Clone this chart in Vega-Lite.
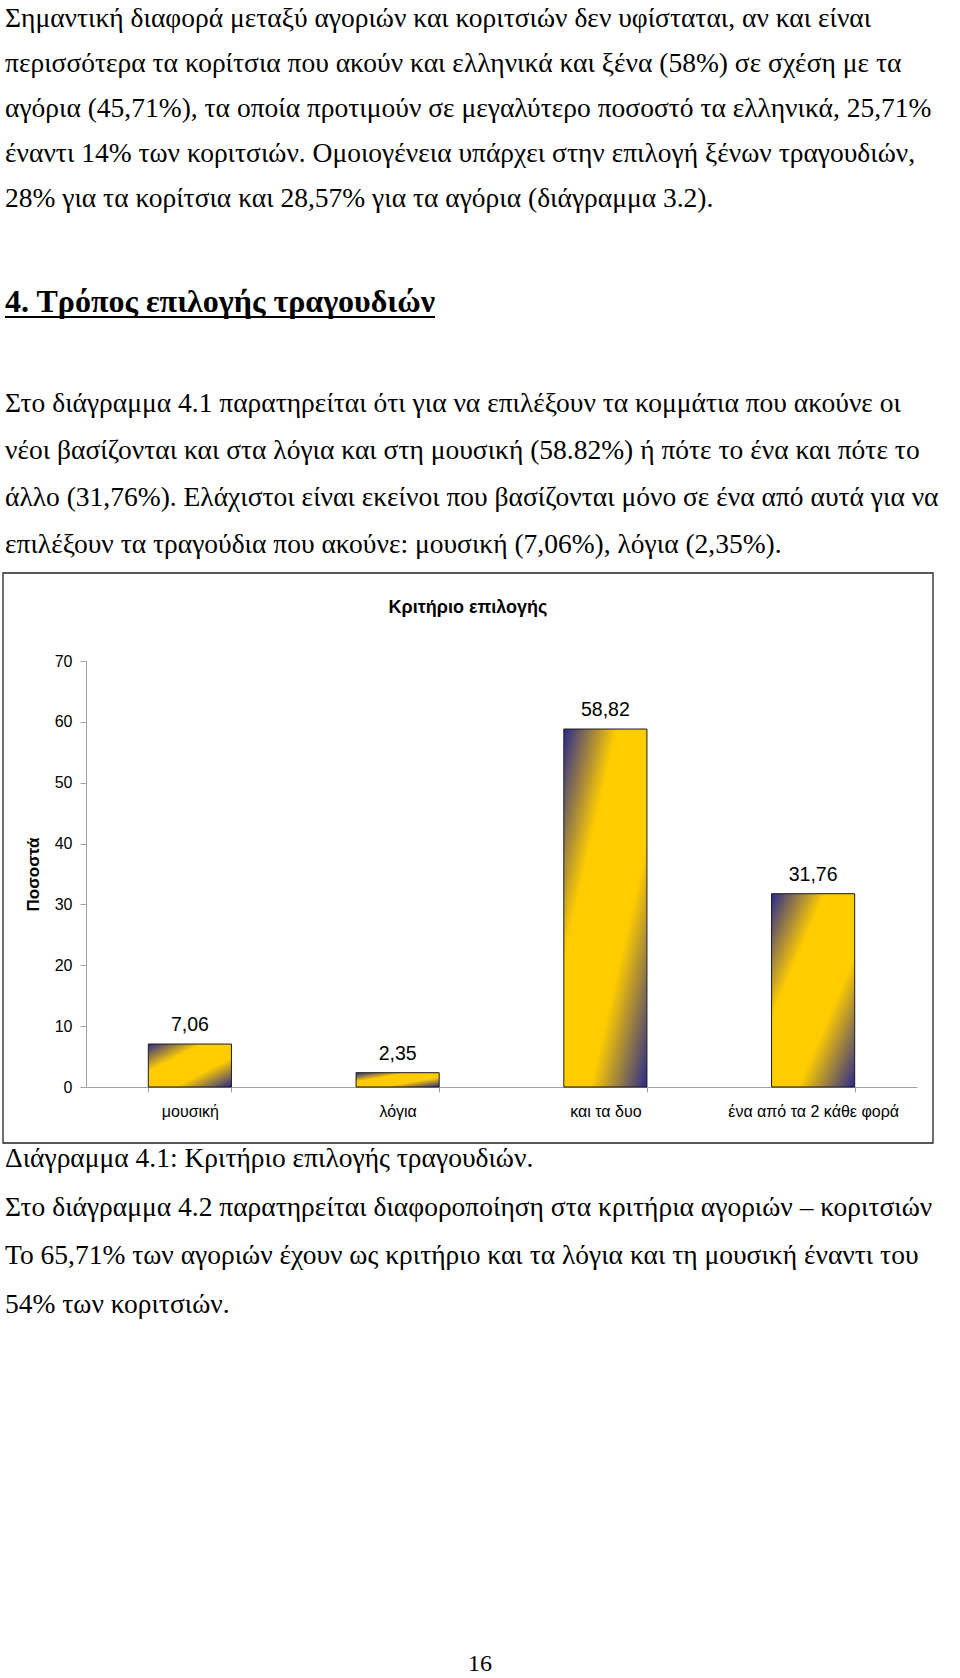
{
  "$schema": "https://vega.github.io/schema/vega-lite/v6.json",
  "width": 960,
  "height": 1678,
  "autosize": {"type": "none"},
  "padding": 0,
  "background": "white",
  "config": {
    "view": {"stroke": null},
    "locale": {"number": {"decimal": ",", "thousands": ".", "grouping": [3], "currency": ["", " €"]}}
  },
  "datasets": {
    "bars": [
      {"cat": "μουσική", "value": 7.06},
      {"cat": "λόγια", "value": 2.35},
      {"cat": "και τα δυο", "value": 58.82},
      {"cat": "ένα από τα 2 κάθε φορά", "value": 31.76}
    ],
    "p1": [
      {"line": 0, "text": "\u00a0\u00a0\u00a0Σημαντική διαφορά μεταξύ αγοριών και κοριτσιών δεν υφίσταται, αν και είναι"},
      {"line": 1, "text": "περισσότερα τα κορίτσια που ακούν και ελληνικά και ξένα (58%) σε σχέση με τα"},
      {"line": 2, "text": "αγόρια (45,71%), τα οποία προτιμούν σε μεγαλύτερο ποσοστό τα ελληνικά, 25,71%"},
      {"line": 3, "text": "έναντι 14% των κοριτσιών. Ομοιογένεια υπάρχει στην επιλογή ξένων τραγουδιών,"},
      {"line": 4, "text": "28% για τα κορίτσια και 28,57% για τα αγόρια (διάγραμμα 3.2)."}
    ],
    "heading": [{"text": "4. Τρόπος επιλογής τραγουδιών"}],
    "p2": [
      {"line": 0, "text": "\u00a0\u00a0\u00a0Στο διάγραμμα 4.1 παρατηρείται ότι για να επιλέξουν τα κομμάτια που ακούνε οι"},
      {"line": 1, "text": "νέοι βασίζονται και στα λόγια και στη μουσική (58.82%) ή πότε το ένα και πότε το"},
      {"line": 2, "text": "άλλο (31,76%). Ελάχιστοι είναι εκείνοι που βασίζονται μόνο σε ένα από αυτά για να"},
      {"line": 3, "text": "επιλέξουν τα τραγούδια που ακούνε: μουσική (7,06%), λόγια (2,35%)."}
    ],
    "p3": [
      {"line": 0, "text": "Διάγραμμα 4.1: Κριτήριο επιλογής τραγουδιών."},
      {"line": 1, "text": "\u00a0\u00a0Στο διάγραμμα 4.2 παρατηρείται διαφοροποίηση στα κριτήρια αγοριών – κοριτσιών"},
      {"line": 2, "text": "Το 65,71% των αγοριών έχουν ως κριτήριο και τα λόγια και τη μουσική έναντι του"},
      {"line": 3, "text": "54% των κοριτσιών."}
    ],
    "chartTitle": [{"text": "Κριτήριο επιλογής"}],
    "page": [{"text": "16"}]
  },
  "layer": [
    {
      "data": {"name": "bars"},
      "encoding": {
        "x": {
          "field": "cat", "type": "nominal", "sort": null,
          "scale": {"range": [86, 917], "paddingInner": 0.6, "paddingOuter": 0.3},
          "axis": {
            "orient": "bottom", "offset": -591, "title": null, "labelAngle": 0,
            "tickBand": "extent", "tickSize": 5, "tickColor": "#a0a0a0", "domainColor": "#a0a0a0",
            "labelFont": "Liberation Sans", "labelFontSize": 16, "labelColor": "#000", "labelPadding": 11
          }
        },
        "y": {
          "field": "value", "type": "quantitative",
          "scale": {"domain": [0, 70], "range": [1087, 661], "nice": false, "zero": true},
          "axis": {
            "orient": "left", "offset": -86, "values": [0, 10, 20, 30, 40, 50, 60, 70], "grid": false,
            "tickSize": 6, "tickColor": "#a0a0a0", "domainColor": "#a0a0a0",
            "labelFont": "Liberation Sans", "labelFontSize": 16, "labelColor": "#000", "labelPadding": 8,
            "title": "Ποσοστά", "titleFont": "Liberation Sans", "titleFontSize": 17, "titleFontWeight": "bold",
            "titleColor": "#000", "titlePadding": 12
          }
        }
      },
      "layer": [
        {
          "mark": {
            "type": "bar", "stroke": "#1a1a1a", "strokeWidth": 1,
            "color": {
              "gradient": "linear", "x1": 0, "y1": 0, "x2": 1, "y2": 1,
              "stops": [
                {"offset": 0, "color": "#2a2a8c"},
                {"offset": 0.32, "color": "#ffcc00"},
                {"offset": 0.66, "color": "#ffcc00"},
                {"offset": 1, "color": "#2a2a8c"}
              ]
            }
          }
        },
        {
          "mark": {"type": "text", "font": "Liberation Sans", "fontSize": 19.5, "baseline": "middle", "dy": -19, "color": "#000"},
          "encoding": {"text": {"field": "value", "type": "quantitative", "format": ".2f"}}
        }
      ],
      "resolve": {"scale": {"x": "shared", "y": "shared"}}
    },
    {
      "data": {"values": [{}]},
      "mark": {"type": "rect", "fill": null, "fillOpacity": 0, "stroke": "#222", "strokeWidth": 1.3},
      "encoding": {"x": {"value": 3}, "x2": {"value": 933}, "y": {"value": 573}, "y2": {"value": 1143}}
    },
    {
      "data": {"name": "chartTitle"},
      "mark": {"type": "text", "font": "Liberation Sans", "fontSize": 18, "fontWeight": "bold", "align": "center", "baseline": "middle", "color": "#000"},
      "encoding": {"x": {"value": 468}, "y": {"value": 608}, "text": {"field": "text"}}
    },
    {
      "data": {"name": "p1"},
      "mark": {"type": "text", "font": "Liberation Serif", "fontSize": 27.5, "align": "left", "baseline": "middle", "color": "#000"},
      "encoding": {
        "x": {"value": 5},
        "y": {"field": "line", "type": "quantitative", "scale": {"domain": [0, 4], "range": [19, 199]}, "axis": null},
        "text": {"field": "text"}
      }
    },
    {
      "data": {"name": "heading"},
      "mark": {"type": "text", "font": "Liberation Serif", "fontSize": 32, "fontWeight": "bold", "align": "left", "baseline": "middle", "color": "#000"},
      "encoding": {"x": {"value": 5}, "y": {"value": 302}, "text": {"field": "text"}}
    },
    {
      "data": {"values": [{}]},
      "mark": {"type": "rule", "stroke": "#000", "strokeWidth": 2},
      "encoding": {"x": {"value": 5}, "x2": {"value": 435}, "y": {"value": 317}}
    },
    {
      "data": {"name": "p2"},
      "mark": {"type": "text", "font": "Liberation Serif", "fontSize": 27.5, "align": "left", "baseline": "middle", "color": "#000"},
      "encoding": {
        "x": {"value": 5},
        "y": {"field": "line", "type": "quantitative", "scale": {"domain": [0, 3], "range": [403.5, 544.5]}, "axis": null},
        "text": {"field": "text"}
      }
    },
    {
      "data": {"name": "p3"},
      "mark": {"type": "text", "font": "Liberation Serif", "fontSize": 27.5, "align": "left", "baseline": "middle", "color": "#000"},
      "encoding": {
        "x": {"value": 5},
        "y": {"field": "line", "type": "quantitative", "scale": {"domain": [0, 3], "range": [1159, 1304.5]}, "axis": null},
        "text": {"field": "text"}
      }
    },
    {
      "data": {"name": "page"},
      "mark": {"type": "text", "font": "Liberation Serif", "fontSize": 24, "align": "center", "baseline": "middle", "color": "#000"},
      "encoding": {"x": {"value": 480}, "y": {"value": 1664}, "text": {"field": "text"}}
    }
  ],
  "resolve": {"scale": {"x": "independent", "y": "independent"}}
}
